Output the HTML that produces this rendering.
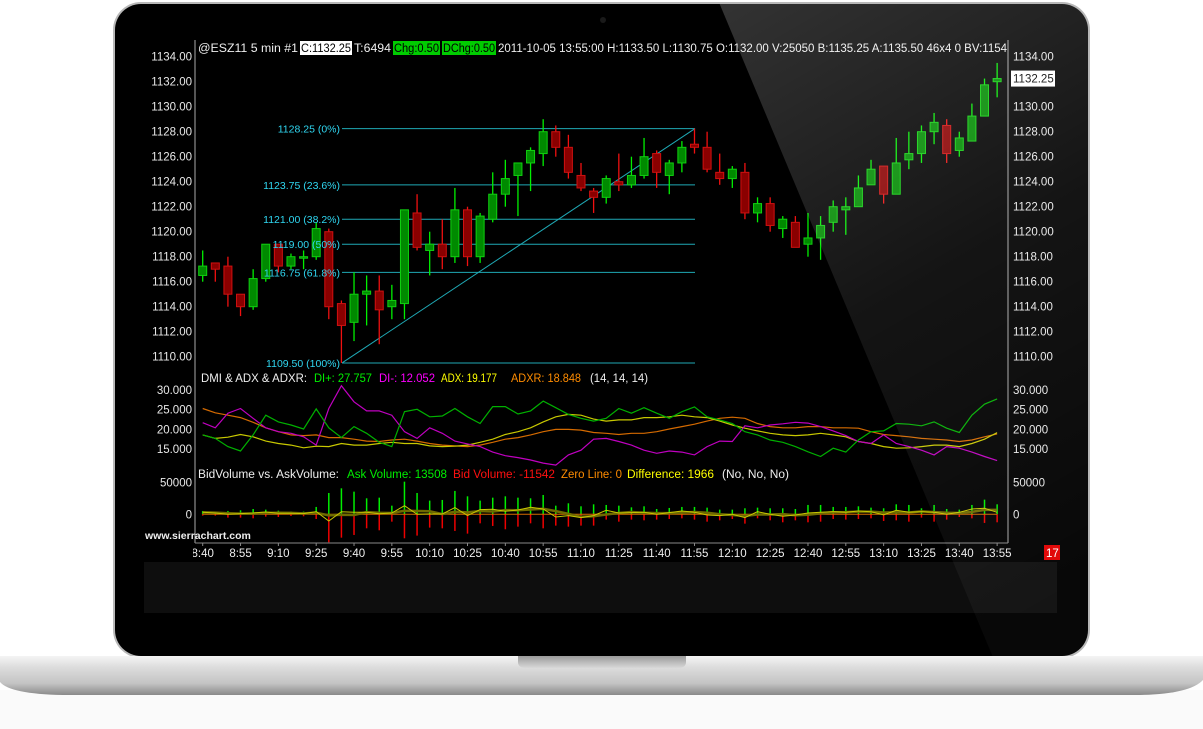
<!DOCTYPE html>
<html><head><meta charset="utf-8"><style>
html,body{margin:0;padding:0;background:#fff;width:1203px;height:729px;overflow:hidden}
svg{display:block;font-family:"Liberation Sans",sans-serif}
</style></head><body>
<svg id="root" width="1203" height="729" viewBox="0 0 1203 729">
<defs>
<linearGradient id="baseG" x1="0" y1="0" x2="0" y2="1">
<stop offset="0" stop-color="#f4f4f4"/><stop offset="0.3" stop-color="#dcdcdc"/><stop offset="0.7" stop-color="#c4c4c4"/><stop offset="1" stop-color="#8a8a8a"/></linearGradient>
<linearGradient id="notchG" x1="0" y1="0" x2="0" y2="1"><stop offset="0" stop-color="#9a9a9a"/><stop offset="1" stop-color="#d8d8d8"/></linearGradient>
<linearGradient id="reflG" x1="0" y1="0" x2="0.3" y2="1"><stop offset="0" stop-color="#fff" stop-opacity="0.2"/><stop offset="0.5" stop-color="#fff" stop-opacity="0.08"/><stop offset="1" stop-color="#fff" stop-opacity="0.03"/></linearGradient>
<clipPath id="lidClip"><rect x="115" y="4" width="973" height="652" rx="26"/></clipPath>
<clipPath id="plotClip"><rect x="193" y="40" width="830" height="530"/></clipPath>
</defs>
<rect x="0" y="690" width="1203" height="39" fill="#fafafa"/>
<rect x="113" y="2" width="977" height="656" rx="28" fill="#b8b8b8"/>
<rect x="115" y="4" width="973" height="652" rx="26" fill="#000"/>
<rect x="144" y="562" width="913" height="51" fill="#0e0e0e"/>
<circle cx="603" cy="20" r="3" fill="#1a1a1a"/>
<g id="chart"></g>
<polygon points="718,0 1100,0 1100,729 1023,729" fill="url(#reflG)" clip-path="url(#lidClip)"/>
<path d="M0,656 L1203,656 L1203,680 Q1190,694 1140,695 L63,695 Q10,694 0,682 Z" fill="url(#baseG)"/>
<path d="M518,656 L686,656 L686,662 Q686,668 678,668 L526,668 Q518,668 518,662 Z" fill="url(#notchG)"/>
</svg>
<script>
const opens=[1116.5,1117.5,1117.25,1115,1114,1116.25,1119,1117.25,1118,1118,1120,1114.25,1112.75,1115,1115.25,1114,1114.25,1121.5,1118.5,1119,1118,1121.75,1118,1121,1123,1124.5,1125.5,1126.25,1128,1126.75,1124.5,1123.25,1122.75,1124,1123.75,1124.5,1126.25,1124.5,1125.5,1127,1126.75,1124.75,1124.25,1124.75,1121.5,1122.25,1120.25,1120.75,1119,1119.5,1120.75,1121.75,1122,1123.75,1125.25,1123,1125.75,1126.25,1128,1128.5,1126.5,1127.25,1129.25,1132];
const highs=[1118.5,1117.5,1118,1115,1117,1119,1119,1118.25,1118.5,1120.75,1120.25,1114.5,1116.75,1116.5,1116.5,1115.75,1121.75,1123,1120,1121,1123.5,1122,1121.5,1124.75,1125.75,1125.5,1126.75,1129,1128.5,1127.75,1125.5,1123.5,1124.5,1126.25,1126,1127.5,1126.5,1125.75,1127.25,1128.25,1128,1126.25,1125.25,1125.5,1122.75,1122.75,1121.25,1121.25,1121.5,1121.25,1122.5,1122.75,1124.5,1125.75,1125.25,1127.5,1128,1128.5,1129.5,1129,1128,1130.25,1132.25,1133.5];
const lows=[1116,1116,1114,1113.25,1113.75,1116,1116.75,1117,1117,1117.75,1113,1109.5,1111.25,1112.5,1111,1113,1113,1118.5,1116.5,1117,1117.5,1117.25,1117.5,1120.75,1122,1121.25,1123.25,1125.25,1126,1124.25,1123.25,1121.5,1122.25,1123.25,1123.5,1124.25,1123.5,1123,1124.75,1126.25,1124.75,1123.75,1123.5,1121,1120.75,1120,1119.5,1118.75,1118,1117.75,1120,1119.75,1122,1123.75,1122.25,1123,1125,1125.5,1127,1125.5,1126,1127.25,1129.25,1130.75];
const closes=[1117.25,1117,1115,1114,1116.25,1119,1117.25,1118,1118,1120.25,1114,1112.5,1115,1115.25,1113.75,1114.5,1121.75,1118.75,1119,1118,1121.75,1118,1121.25,1123,1124.25,1125.5,1126.5,1128,1126.75,1124.75,1123.5,1122.75,1124.25,1123.75,1124.5,1126,1124.75,1125.5,1126.75,1126.75,1125,1124.25,1125,1121.5,1122.25,1120.5,1121,1118.75,1119.5,1120.5,1122,1122,1123.5,1125,1123,1125.5,1126.25,1128,1128.75,1126.25,1127.5,1129.25,1131.75,1132.25];
const priceTicks=[1110,1112,1114,1116,1118,1120,1122,1124,1126,1128,1130,1132,1134];
const fibLevels=[1128.25,1123.75,1121,1119,1116.75,1109.5];
const fibLabels=["1128.25 (0%)","1123.75 (23.6%)","1121.00 (38.2%)","1119.00 (50%)","1116.75 (61.8%)","1109.50 (100%)"];
const diPlus=[18.6,17.7,15.6,14.5,18.6,23.6,21.9,21.1,20.1,25.2,20.4,17.9,20.7,19,16.7,15.6,24.5,25.1,23.2,23.4,25.3,23.2,21.5,25.8,25.8,23.9,24.7,27.2,25.5,23.8,22.8,22.1,22.8,25.3,24.1,25.5,24.1,22.8,24.5,25.7,23.2,22.4,21.5,19.4,18.6,17.3,16.7,15.6,14.3,13.1,15.2,14.2,17.3,19.4,19.6,21.5,21.3,20.9,21.9,20.3,19.2,23.6,26.4,27.757];
const diMinus=[21.7,20.4,24.1,25.3,22.8,20.4,19.4,19,18.1,16,25.3,31.1,27,24.7,24.7,23.6,19.4,17.7,20.4,19,17,16.3,15.6,14.2,13.3,12.8,12.2,11.4,10.9,13.5,14.7,17.5,17.7,16.9,16,14.7,13.9,14.5,14.2,13.5,15.6,17,16.9,20.9,20.4,21.1,21.4,21.8,21.6,20.7,19.6,18.4,16.9,16.4,18.6,16.4,15.6,14.7,13.5,15.6,15.2,14.2,13.1,12.052];
const adx=[18.6,17.7,18,18.7,18.1,17,16.4,16,15.3,15.7,15.6,16.4,16,16,16.4,16.7,16.4,16.4,15.8,15.6,15.7,16,16.7,17.5,18.7,19.4,20.4,21.9,23.2,23.8,23.6,22.6,22.1,22.4,22.4,23,23,23.2,23.6,23.2,23,22.1,21.1,20.3,19.6,19,18.6,18.4,18.6,19,18.6,18.1,16.9,16.4,15.6,15.2,15.3,15.6,16,16,15.6,16.4,17.5,19.177];
const adxr=[25.3,24.2,23.6,23,21.8,20.4,19.4,18.6,18.4,18.6,17.9,17.9,17.5,17,16.9,17.3,17.5,17,16.4,16,15.8,15.6,16,16.7,17.5,17.9,18.6,19.4,20,20,19.8,19.2,19,18.7,19,19,19.4,20.1,20.7,21.3,22.1,22.8,23.1,22.8,21.5,20.7,20.4,20.4,20.7,20.7,20.4,20.4,20.3,19.4,18.7,18.4,18.1,17.7,17.5,17.3,16.9,17.3,18.1,18.848];
const dmiTicks=[15,20,25,30];
const askVol=[5200,4200,5200,6250,8300,7300,5700,4200,4200,11500,33300,40600,35400,25000,26000,13500,51000,33300,21400,22400,36500,28100,21400,26000,28100,26000,25000,30200,13500,17200,12500,15600,14600,13500,10900,12500,8300,9900,11500,11500,10400,7300,7300,9400,10400,9400,9400,8300,14600,14600,11500,11500,12500,10400,9400,15600,14600,9400,14600,8300,7300,14600,22900,15600];
const bidVol=[2100,2100,5200,5200,6250,3650,4200,2600,3100,7300,43750,36500,32300,21900,25000,11500,37500,33300,20800,21900,26000,30200,14100,18200,23400,19300,14100,21900,17700,19300,17700,17700,8300,11500,8300,9400,8300,7300,6300,8300,11500,9400,7300,14600,6300,9400,12500,9400,12500,11500,7300,8300,7300,6300,10400,9400,11500,5200,11500,8300,4200,6300,13500,12500];
const volTicks=[0,50000];
const timeLabels=["8:40","8:55","9:10","9:25","9:40","9:55","10:10","10:25","10:40","10:55","11:10","11:25","11:40","11:55","12:10","12:25","12:40","12:55","13:10","13:25","13:40","13:55"];

const NS="http://www.w3.org/2000/svg";
const g=document.getElementById('chart');
function mk(tag,attrs,parent){const e=document.createElementNS(NS,tag);for(const k in attrs)e.setAttribute(k,attrs[k]);(parent||g).appendChild(e);return e;}
const xB=i=>202.7+i*12.61;
const yP=p=>356.7-(p-1110)*12.5;
const yD=v=>449-(v-15)*3.93;
const yV=v=>514.3-v*32/50000;
const FONT=11.5;

let e;
e=mk('line',{x1:195,y1:40,x2:195,y2:543,stroke:'#aaa','stroke-width':1});


e=mk('line',{x1:1008,y1:40,x2:1008,y2:543,stroke:'#aaa','stroke-width':1});


e=mk('line',{x1:195,y1:543,x2:1008,y2:543,stroke:'#888','stroke-width':1});



priceTicks.forEach(p=>{
  const y=yP(p);
  e=mk('text',{x:192,y:y+4,fill:'#e8e8e8','font-size':FONT,'text-anchor':'end'});e.textContent=p.toFixed(2);
  
  
  if(p!==1132){e=mk('text',{x:1013,y:y+4,fill:'#e8e8e8','font-size':FONT});e.textContent=p.toFixed(2);
  
  }
});
const cp=closes[closes.length-1];
e=mk('rect',{x:1011,y:yP(cp)-8,width:44,height:16,fill:'#fff'});


e=mk('text',{x:1013,y:yP(cp)+4,fill:'#000','font-size':FONT});e.textContent=cp.toFixed(2);



const fx1=342,fx2=695;
fibLevels.forEach((lv,i)=>{
  e=mk('line',{x1:fx1,y1:yP(lv),x2:fx2,y2:yP(lv),stroke:'#1fa9b5','stroke-width':1});
  
  
});
e=mk('line',{x1:fx1,y1:yP(fibLevels[5]),x2:fx2,y2:yP(fibLevels[0]),stroke:'#1fa9b5','stroke-width':1});



opens.forEach((o,i)=>{
  const c=closes[i],up=c>=o,x=xB(i);
  e=mk('line',{x1:x,y1:yP(highs[i]),x2:x,y2:yP(lows[i]),stroke:up?'#00f000':'#f01010','stroke-width':1.3});
  
  
  const top=yP(Math.max(o,c)),bot=yP(Math.min(o,c));
  e=mk('rect',{x:x-4,y:top,width:8,height:Math.max(1.5,bot-top),fill:up?'#008a00':'#8a0000',stroke:up?'#10d010':'#d01010','stroke-width':1});
  
  
});
fibLevels.forEach((lv,i)=>{
  e=mk('text',{x:340,y:yP(lv)+4,fill:'#2fd6f0','font-size':10.5,'text-anchor':'end'});e.textContent=fibLabels[i];
  
  
});

function txt(x,y,s,fill,len,name,size){const t=mk('text',{x:x,y:y,fill:fill,'font-size':size||FONT,textLength:len,lengthAdjust:'spacingAndGlyphs'});t.textContent=s;

return t;}
txt(198,52,"@ESZ11  5 min   #1",'#eee',100,'header-symbol');
e=mk('rect',{x:300,y:41,width:52,height:14,fill:'#fff'});


txt(301,52,"C:1132.25",'#000',50,'header-close');
txt(354,52,"T:6494",'#eee',37,'header-ticks');
e=mk('rect',{x:393,y:41,width:47,height:14,fill:'#00cc00'});


txt(394,52,"Chg:0.50",'#000',45,'header-chg');
e=mk('rect',{x:442,y:41,width:54,height:14,fill:'#00cc00'});


txt(443,52,"DChg:0.50",'#000',52,'header-dchg');
txt(498,52,"2011-10-05 13:55:00 H:1133.50 L:1130.75 O:1132.00 V:25050 B:1135.25 A:1135.50 46x4 0 BV:1154",'#eee',509,'header-details');

dmiTicks.forEach(v=>{
  e=mk('text',{x:192,y:yD(v)+4,fill:'#e8e8e8','font-size':FONT,'text-anchor':'end'});e.textContent=v.toFixed(3);
  
  
  e=mk('text',{x:1013,y:yD(v)+4,fill:'#e8e8e8','font-size':FONT});e.textContent=v.toFixed(3);
  
  
});
function series(arr,yf,color,name,w){
  const pts=arr.map((v,i)=>xB(i).toFixed(1)+','+yf(v).toFixed(1)).join(' ');
  const p=mk('polyline',{points:pts,fill:'none',stroke:color,'stroke-width':w||1.2});
  
  
}
series(adxr,yD,'#d46a00','adxr-line');
series(adx,yD,'#c8c800','adx-line');
series(diMinus,yD,'#c000c0','di-minus-line');
series(diPlus,yD,'#00b000','di-plus-line');
txt(201,382,"DMI & ADX & ADXR:",'#eee',106,'dmi-title');
txt(314,382,"DI+: 27.757",'#00ee00',58,'dmi-legend-di-plus');
txt(379,382,"DI-: 12.052",'#ff00ff',56,'dmi-legend-di-minus');
txt(441,382,"ADX: 19.177",'#ffff00',56,'dmi-legend-adx');
txt(511,382,"ADXR: 18.848",'#ff8c00',70,'dmi-legend-adxr');
txt(590,382,"(14, 14, 14)",'#eee',58,'dmi-params');

volTicks.forEach(v=>{
  e=mk('text',{x:192,y:yV(v)+4,fill:'#e8e8e8','font-size':FONT,'text-anchor':'end'});e.textContent=String(v);
  
  
  e=mk('text',{x:1013,y:yV(v)+4,fill:'#e8e8e8','font-size':FONT});e.textContent=String(v);
  
  
});
askVol.forEach((v,i)=>{
  e=mk('line',{x1:xB(i),y1:yV(0),x2:xB(i),y2:yV(v),stroke:'#00ee00','stroke-width':1.5});
  
  
});
bidVol.forEach((v,i)=>{
  e=mk('line',{x1:xB(i),y1:yV(0),x2:xB(i),y2:yV(-v),stroke:'#ee0000','stroke-width':1.5});
  
  
});
e=mk('line',{x1:xB(0),y1:yV(0),x2:xB(63),y2:yV(0),stroke:'#d46a00','stroke-width':1});


const diff=askVol.map((a,i)=>a-bidVol[i]);
const diffMA=diff.map((d,i)=>{let s=0,n=0;for(let k=Math.max(0,i-2);k<=i;k++){s+=diff[k];n++;}return s/n;});
series(diffMA,yV,'#6e6a00','difference-average-line',2.5);
series(diff,yV,'#c8c800','difference-line',1);
txt(198,478,"BidVolume vs. AskVolume:",'#eee',141,'volume-title');
txt(347,478,"Ask Volume: 13508",'#00ee00',100,'volume-legend-ask');
txt(453,478,"Bid Volume: -11542",'#ff1010',102,'volume-legend-bid');
txt(561,478,"Zero Line: 0",'#ff8c00',61,'volume-legend-zero');
txt(627,478,"Difference: 1966",'#ffff00',87,'volume-legend-difference');
txt(722,478,"(No, No, No)",'#eee',67,'volume-params');

const tg=mk('g',{'clip-path':'url(#plotClip)'});


timeLabels.forEach((s,k)=>{
  const x=xB(k*3);
  e=mk('line',{x1:x,y1:543,x2:x,y2:546,stroke:'#888'},tg);
  
  
  e=mk('text',{x:x,y:557,fill:'#eee','font-size':FONT,'text-anchor':'middle'},tg);e.textContent=s;
  
  
});
e=mk('text',{x:145,y:539,fill:'#eee','font-size':10.5,'font-weight':'bold'});e.textContent="www.sierrachart.com";


e=mk('rect',{x:1044,y:545,width:16,height:15,fill:'#e00000'});


e=mk('text',{x:1046,y:557,fill:'#fff','font-size':FONT});e.textContent="17";


</script>
</body></html>
